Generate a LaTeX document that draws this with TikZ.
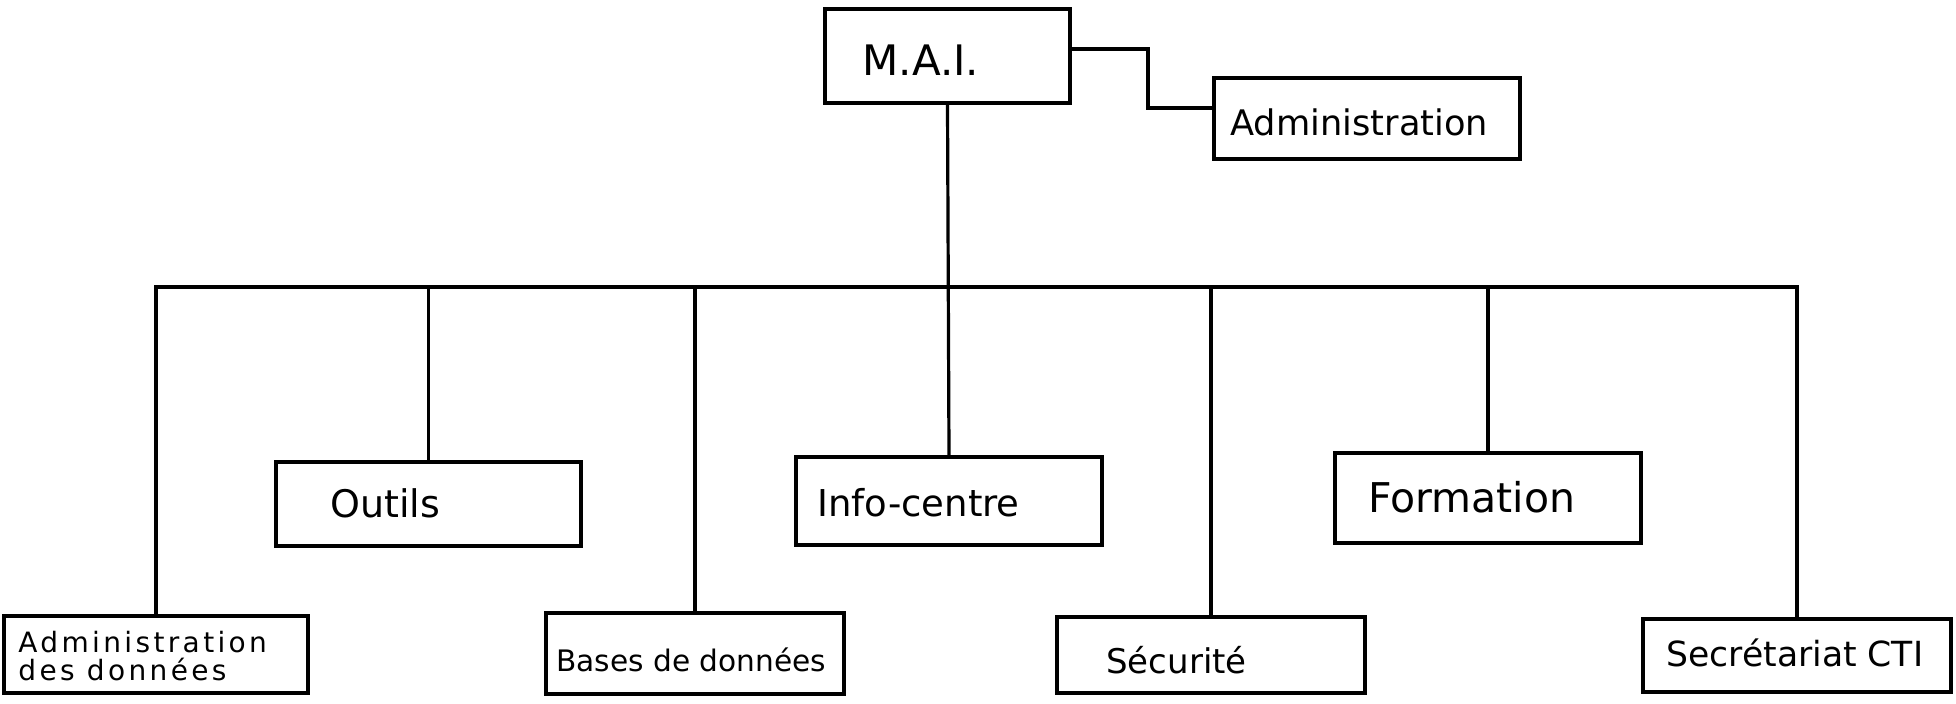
\documentclass[tikz,border=0pt]{standalone}
\usepackage{fontspec}
\setmainfont{DejaVu Sans}
\newfontfamily\widefont[LetterSpace=12]{DejaVu Sans}
\begin{document}
\begin{tikzpicture}[x=0.5pt,y=-0.5pt,
  box/.style={draw=black, line width=2.2pt, rectangle, inner sep=0pt},
  conn/.style={draw=black, line width=1.6pt, line join=miter},
  lbl/.style={anchor=west, inner sep=0pt, text=black}]
\useasboundingbox[fill=white] (0,0) rectangle (1956,704);
% boxes
\node[box, minimum width=122.5pt, minimum height=47pt] (mai) at (947.5,56) {};
\node[box, minimum width=153pt, minimum height=40.5pt] (admin) at (1367,118.5) {};
\node[box, minimum width=152.5pt, minimum height=42pt] (outils) at (428.5,504) {};
\node[box, minimum width=153pt, minimum height=44pt] (info) at (949,501) {};
\node[box, minimum width=153pt, minimum height=45pt] (form) at (1488,498) {};
\node[box, minimum width=152pt, minimum height=38.5pt] (adon) at (156,654.5) {};
\node[box, minimum width=149pt, minimum height=40.5pt] (bases) at (695,653.5) {};
\node[box, minimum width=154pt, minimum height=38pt] (secu) at (1211,655) {};
\node[box, minimum width=154pt, minimum height=36.5pt] (secr) at (1797,655.5) {};
% labels
\node[lbl, font=\fontsize{21}{24}\selectfont] (tmai) at (862,60) {M.A.I.};
\node[lbl, font=\fontsize{17.6}{20}\selectfont] (tadmin) at (1230,122) {Administration};
\node[lbl, font=\fontsize{19}{22}\selectfont] (toutils) at (330,503) {Outils};
\node[lbl, font=\fontsize{18.5}{22}\selectfont] (tinfo) at (817,503) {Info-centre};
\node[lbl, font=\fontsize{20.5}{24}\selectfont] (tform) at (1368,497) {Formation};
\node[lbl, align=left, font=\widefont\fontsize{14}{14}\selectfont] (tadon) at (18,656) {Administration\\des données};
\node[lbl, font=\fontsize{14.8}{18}\selectfont] (tbases) at (556,660) {Bases de données};
\node[lbl, font=\fontsize{17}{20}\selectfont] (tsecu) at (1106,660) {Sécurité};
\node[lbl, font=\fontsize{17.3}{20}\selectfont] (tsecr) at (1666,653) {Secrétariat CTI};
% connectors
\coordinate (k1) at (1148,49);
\coordinate (k2) at (1148,108);
\coordinate (bus) at (0,287);
\draw[conn] (mai.east |- k1) -- (k1) -- (k2) -- (admin.west |- k2);
\draw[conn] (mai.south) -- (info.north);
\draw[conn] (adon.north) -- (adon.north |- bus) -- (secr.north |- bus) -- (secr.north);
\draw[conn] (outils.north |- bus) -- (outils.north);
\draw[conn] (bases.north |- bus) -- (bases.north);
\draw[conn] (secu.north |- bus) -- (secu.north);
\draw[conn] (form.north |- bus) -- (form.north);
\end{tikzpicture}
\end{document}
